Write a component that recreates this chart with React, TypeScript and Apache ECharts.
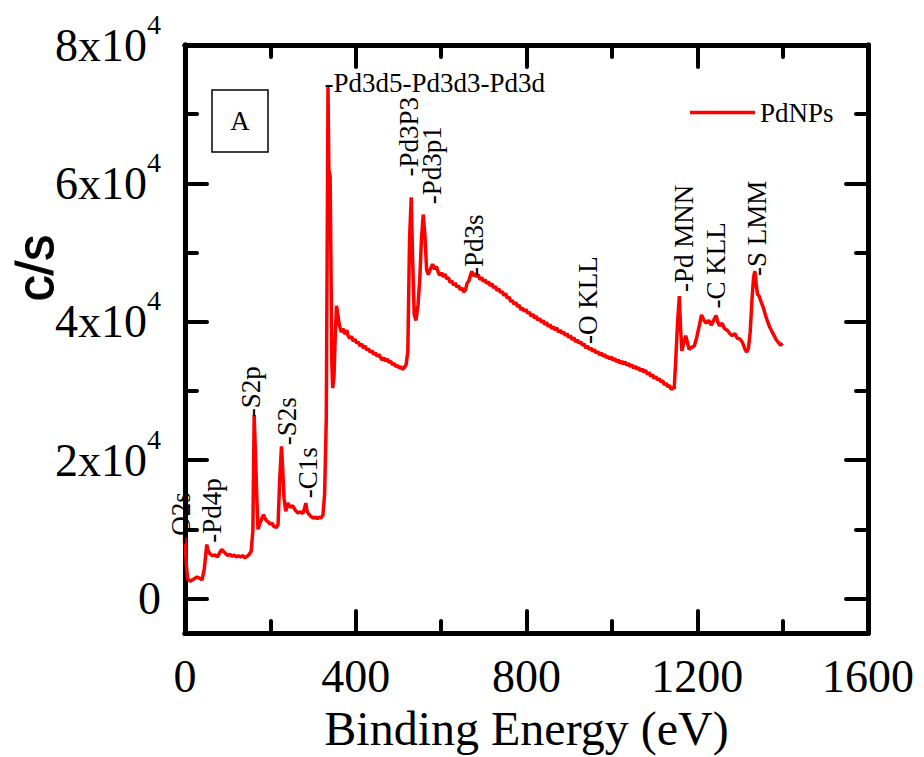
import React, { useEffect, useRef } from "react";
import * as echarts from "echarts";

// Spectrum points: [binding energy (eV), counts per second]
const spectrum: [number, number][] = [
  [0, 8800], [3, 5000], [6, 2900], [12, 2500], [20, 2800], [28, 3100], [35, 2900], [40, 2700], [45, 4200], [48, 6000],
  [51, 7800], [54, 6900], [58, 6500], [64, 6200], [70, 6300], [76, 6000], [82, 6700], [86, 7100], [90, 6800], [95, 6500],
  [100, 6200], [105, 6400], [110, 6100], [115, 6300], [120, 6000], [125, 6200], [130, 6000], [135, 6200], [140, 5900], [148, 6200],
  [155, 6800], [159, 9800], [162, 26500], [165, 21000], [168, 15000], [171, 10000], [175, 10800], [180, 11600], [184, 12100], [188, 11500],
  [192, 11200], [196, 11000], [200, 10700], [204, 10900], [208, 10400], [214, 10300], [218, 10700], [222, 17400], [226, 22000], [229, 18500],
  [232, 14500], [236, 12600], [241, 13800], [246, 13200], [252, 13400], [258, 12800], [264, 12400], [270, 12500], [276, 12300], [280, 13000],
  [283, 13800], [286, 12600], [290, 12200], [296, 11800], [302, 11600], [306, 11800], [310, 11500], [314, 11800], [318, 11600], [323, 12000],
  [327, 15000], [331, 26000], [333, 50000], [335, 74000], [337, 62000], [340, 61000], [342, 48000], [344, 34000], [346, 30400], [349, 32000],
  [352, 38000], [355, 42300], [358, 41000], [362, 39400], [366, 38500], [370, 39000], [375, 38200], [379, 38800], [382, 38000], [386, 37600],
  [390, 37900], [394, 37200], [398, 37500], [402, 36900], [406, 37100], [410, 36500], [414, 36800], [418, 36200], [422, 36500], [426, 35900],
  [430, 36100], [434, 35600], [438, 35800], [442, 35300], [446, 35500], [450, 35000], [454, 35300], [458, 34800], [462, 34500], [466, 34800],
  [470, 34300], [474, 34600], [478, 34100], [482, 34300], [486, 33800], [490, 34000], [494, 33500], [498, 33700], [502, 33300], [506, 33500],
  [510, 33100], [514, 33400], [518, 33800], [522, 35700], [526, 52000], [530, 58000], [533, 49500], [537, 41000], [541, 40200], [546, 42500],
  [550, 46200], [554, 52000], [558, 55500], [562, 52500], [566, 47500], [570, 46800], [574, 47500], [580, 48300], [585, 47600], [589, 48000],
  [593, 47200], [597, 46700], [601, 47100], [605, 46500], [609, 46900], [613, 46200], [617, 46400], [621, 45700], [625, 45900], [629, 45300],
  [633, 45600], [637, 45000], [641, 45200], [645, 44600], [649, 44900], [653, 44300], [657, 44600], [661, 45600], [665, 45900], [669, 46800],
  [672, 47300], [675, 46600], [679, 47000], [683, 46500], [687, 46800], [691, 46100], [695, 46400], [699, 45800], [703, 46100], [707, 45500],
  [711, 45800], [715, 45200], [719, 45500], [723, 44900], [727, 45100], [731, 44500], [735, 44800], [739, 44200], [743, 44400], [747, 43800],
  [751, 44100], [755, 43400], [759, 43600], [763, 42900], [767, 43100], [771, 42500], [775, 42800], [779, 42200], [783, 42400], [787, 41700],
  [791, 42000], [795, 41500], [799, 41800], [803, 41200], [807, 41400], [811, 40800], [815, 41100], [819, 40500], [823, 40800], [827, 40200],
  [831, 40500], [835, 39900], [839, 40200], [843, 39600], [847, 39900], [851, 39300], [855, 39600], [859, 39000], [863, 39300], [867, 38800],
  [871, 39100], [875, 38500], [879, 38800], [883, 38300], [887, 38500], [891, 38000], [895, 38300], [899, 37700], [903, 38000], [907, 37400],
  [911, 37700], [915, 37100], [919, 37400], [923, 36900], [927, 37100], [931, 36600], [935, 36800], [939, 36200], [943, 36500], [947, 36000],
  [951, 36200], [955, 35700], [959, 36000], [963, 35500], [967, 35700], [971, 35200], [975, 35500], [979, 35000], [983, 35300], [987, 34800],
  [991, 35000], [995, 34600], [999, 34900], [1003, 34400], [1007, 34700], [1011, 34200], [1015, 34500], [1019, 34000], [1023, 34300], [1027, 33900],
  [1031, 34200], [1035, 33700], [1039, 34000], [1043, 33500], [1047, 33800], [1051, 33300], [1055, 33600], [1059, 33100], [1063, 33400], [1067, 32900],
  [1071, 33200], [1075, 32700], [1079, 33000], [1083, 32400], [1087, 32700], [1091, 32100], [1095, 32400], [1099, 31800], [1103, 32100], [1107, 31600],
  [1111, 31800], [1115, 31300], [1119, 31500], [1123, 30900], [1127, 31100], [1131, 30600], [1135, 30800], [1139, 30200], [1143, 30500], [1146, 30300],
  [1150, 35000], [1154, 40000], [1158, 43700], [1161, 39000], [1164, 35800], [1168, 36800], [1173, 38000], [1177, 37000], [1181, 36000], [1187, 36300],
  [1193, 36500], [1199, 37800], [1205, 39500], [1210, 41000], [1215, 40300], [1221, 39800], [1227, 40200], [1233, 39500], [1239, 40300], [1244, 40900],
  [1248, 40000], [1252, 39400], [1258, 39800], [1264, 39000], [1270, 38800], [1276, 38300], [1282, 38000], [1288, 38300], [1294, 37600], [1300, 37500],
  [1306, 37000], [1312, 36000], [1316, 35600], [1320, 36200], [1324, 38500], [1328, 43000], [1332, 46500], [1335, 47300], [1338, 45500], [1341, 44000],
  [1345, 43700], [1350, 42800], [1355, 42000], [1360, 40900], [1365, 40000], [1370, 39200], [1375, 38600], [1380, 38000], [1385, 37400], [1390, 37000],
  [1395, 36600], [1400, 36900],
];

// Peak annotations (anchor = start of the text)
const peakNames = ["-O2s", "-Pd4p", "-S2p", "-S2s", "-C1s", "-Pd3P3", "-Pd3p1", "-Pd3s", "-O KLL", "-Pd MNN", "-C KLL", "-S LMM"];
const peakX = [-9, 63, 154, 239, 288, 524, 578, 678, 943, 1170, 1244, 1340];
const peakY = [7770, 8060, 26200, 22150, 14500, 61000, 57000, 46600, 36800, 44300, 41900, 46600];
const topLabel = "-Pd3d5-Pd3d3-Pd3d";
const topLabelPos = [327, 74500];

const xMajor = [0, 400, 800, 1200, 1600];
const xMinor = [200, 600, 1000, 1400];
const yMajor = [0, 20000, 40000, 60000, 80000];
const yMinor = [10000, 30000, 50000, 70000];

const SERIF = "Liberation Serif";

export default function App() {
  const ref = useRef<HTMLDivElement>(null);
  useEffect(() => {
    document.body.style.margin = "0";
    const chart = echarts.init(ref.current!, null, { renderer: "svg" });
    const axLine = { show: true, onZero: false, lineStyle: { color: "#000", width: 5 } };
    const tick = (vals: number[], len: number) => ({
      show: true,
      inside: true,
      length: len,
      customValues: vals,
      lineStyle: { color: "#000", width: 4, cap: "round" },
    });
    const xBase = { type: "value", min: 0, max: 1600, splitLine: { show: false }, axisLine: axLine };
    const yBase = { type: "value", min: -5000, max: 80000, splitLine: { show: false }, axisLine: axLine };

    const labelFont = { fontFamily: SERIF, fontSize: 27, color: "#000", textBorderWidth: 0, opacity: 1 };
    const annData: any[] = peakNames.map((n, i) => ({
      name: n,
      value: [peakX[i], peakY[i]],
      label: { ...labelFont, rotate: 90, align: "left", verticalAlign: "middle" },
    }));
    annData.push({
      name: topLabel,
      value: topLabelPos,
      label: { ...labelFont, rotate: 0, align: "left", verticalAlign: "middle" },
    });

    chart.setOption({
      animation: false,
      grid: { left: 185, right: 56, top: 45, bottom: 122 },
      legend: {
        data: ["PdNPs"],
        left: 685,
        top: 94,
        icon: "rect",
        itemWidth: 65,
        itemHeight: 3.5,
        itemGap: 5,
        textStyle: { fontFamily: SERIF, fontSize: 27, color: "#000" },
      },
      xAxis: [
        {
          ...xBase,
          position: "bottom",
          axisTick: tick(xMajor, 22),
          axisLabel: {
            customValues: xMajor,
            formatter: (v: number) => String(v),
            fontFamily: SERIF,
            fontSize: 46,
            color: "#000",
            margin: 20,
          },
          name: "Binding Energy (eV)",
          nameLocation: "middle",
          nameGap: 66,
          nameTextStyle: { fontFamily: SERIF, fontSize: 48, color: "#000" },
        },
        { ...xBase, position: "bottom", axisTick: tick(xMinor, 12), axisLabel: { show: false } },
        { ...xBase, position: "top", axisTick: tick(xMajor, 22), axisLabel: { show: false } },
        { ...xBase, position: "top", axisTick: tick(xMinor, 12), axisLabel: { show: false } },
      ],
      yAxis: [
        {
          ...yBase,
          position: "left",
          axisTick: tick(yMajor, 22),
          axisLabel: {
            customValues: yMajor,
            margin: 24,
            formatter: (v: number) => (v === 0 ? "{n|0}" : `{n|${v / 10000}x10}{s|4}`),
            rich: {
              n: { fontFamily: SERIF, fontSize: 46, lineHeight: 70, color: "#000" },
              s: { fontFamily: SERIF, fontSize: 28, lineHeight: 28, verticalAlign: "top", color: "#000" },
            },
          },
        },
        { ...yBase, position: "left", axisTick: tick(yMinor, 12), axisLabel: { show: false } },
        { ...yBase, position: "right", axisTick: tick(yMajor, 22), axisLabel: { show: false } },
        { ...yBase, position: "right", axisTick: tick(yMinor, 12), axisLabel: { show: false } },
      ],
      series: [
        {
          name: "PdNPs",
          type: "line",
          xAxisIndex: 0,
          yAxisIndex: 0,
          data: spectrum,
          symbol: "none",
          color: "#ff0000",
          lineStyle: { color: "#ff0000", width: 3.5 },
          z: 3,
        },
        {
          name: "labels",
          type: "scatter",
          xAxisIndex: 0,
          yAxisIndex: 0,
          data: annData,
          symbolSize: 0,
          clip: false,
          silent: true,
          itemStyle: { opacity: 1, color: "#000" },
          z: 4,
          label: {
            show: true,
            position: "inside",
            formatter: "{b}",
            ...labelFont,
          },
        },
      ],
      graphic: [
        {
          type: "text",
          x: 35,
          y: 268,
          rotation: Math.PI / 2,
          style: {
            text: "c/s",
            fontFamily: "Liberation Sans",
            fontSize: 52,
            fill: "#000",
            stroke: "#000",
            lineWidth: 1,
            align: "center",
            verticalAlign: "middle",
          },
        },
        {
          type: "rect",
          shape: { x: 212, y: 90, width: 56, height: 62 },
          style: { fill: "#fff", stroke: "#000", lineWidth: 1.5 },
        },
        {
          type: "text",
          x: 240,
          y: 121,
          style: {
            text: "A",
            fontFamily: SERIF,
            fontSize: 27,
            fill: "#000",
            align: "center",
            verticalAlign: "middle",
          },
        },
      ],
    });
    return () => chart.dispose();
  }, []);
  return <div ref={ref} style={{ width: 924, height: 757 }} />;
}
